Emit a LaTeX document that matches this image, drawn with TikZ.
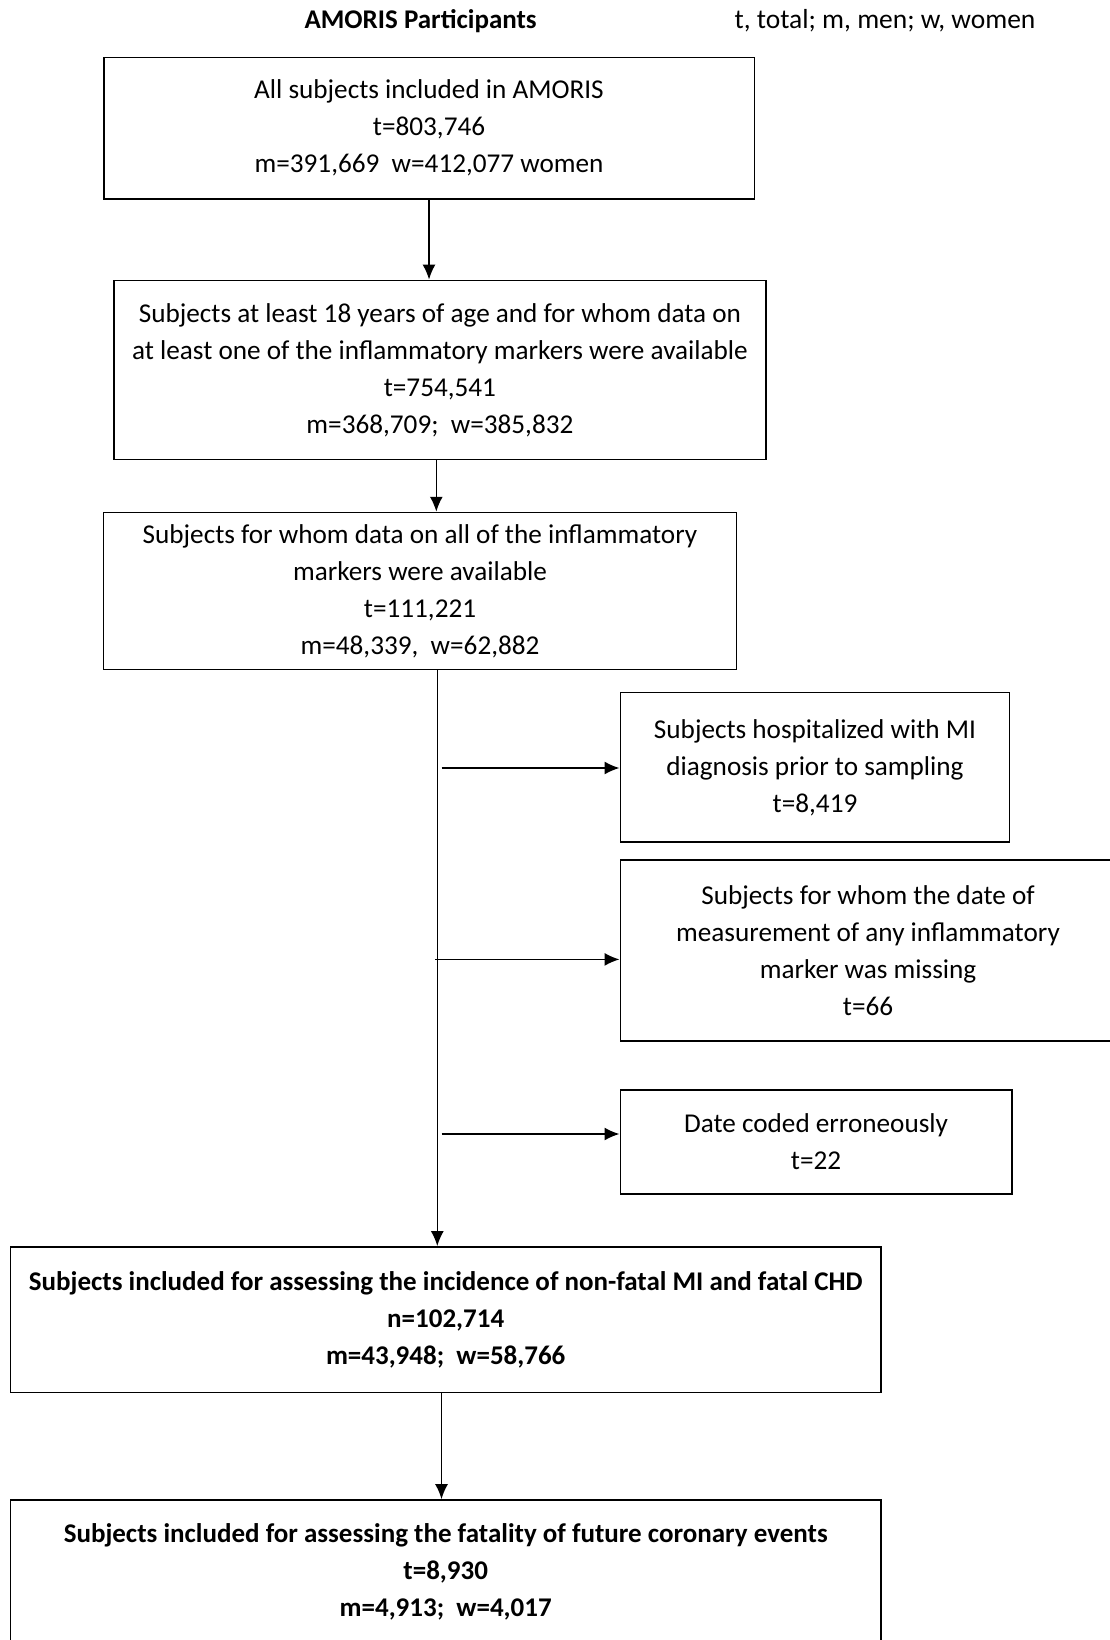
\documentclass[tikz,border=0pt]{standalone}
\usepackage{fontspec}
\setmainfont{Carlito}
\usetikzlibrary{arrows.meta}
\begin{document}
\begin{tikzpicture}[x=1pt,y=-1pt,
  box/.style={draw, line width=1.7pt, rectangle, align=center, inner sep=0pt,
    font=\fontsize{27.2}{37}\selectfont},
  bbox/.style={box, font=\fontsize{27}{37}\selectfont\bfseries},
  arr/.style={line width=1.6pt, -{Latex[length=15pt,width=13pt]}},
  ln/.style={line width=1.6pt}]
\useasboundingbox (0,0) rectangle (1110,1640);
\fill[white] (0,0) rectangle (1110,1640);

\node[font=\fontsize{27}{30}\selectfont\bfseries] (title) at (420.6,21) {AMORIS Participants};
\node[font=\fontsize{27.5}{30}\selectfont, anchor=west] (legend) at (731,21) {t, total; m, men; w, women};

\node[box, minimum width=650.7pt, minimum height=141.3pt] (b1) at (429,128.2)
  {All subjects included in AMORIS\\t=803,746\\m=391,669~ w=412,077 women};
\node[box, minimum width=651.8pt, minimum height=178.9pt] (b2) at (439.9,369.9)
  {Subjects at least 18 years of age and for whom data on\\at least one of the inflammatory markers were available\\t=754,541\\m=368,709;~ w=385,832};
\node[box, minimum width=632.9pt, minimum height=157pt] (b3) at (420,591.1)
  {Subjects for whom data on all of the inflammatory\\markers were available\\t=111,221\\m=48,339,~ w=62,882};
\node[box, minimum width=389.2pt, minimum height=149.6pt] (b4) at (815,767.4)
  {Subjects hospitalized with MI\\diagnosis prior to sampling\\t=8,419};
\node[box, minimum width=520pt, minimum height=181pt] (b5) at (880.4,950.5)
  {};
\node[font=\fontsize{27.2}{37}\selectfont, align=center] (b5t) at (868,950.5)
  {Subjects for whom the date of\\measurement of any inflammatory\\marker was missing\\t=66};
\node[box, minimum width=391.3pt, minimum height=103.7pt] (b6) at (816,1141.9)
  {Date coded erroneously\\t=22};
\node[bbox, minimum width=870.5pt, minimum height=145.5pt] (b7) at (445.7,1319.7)
  {Subjects included for assessing the incidence of non-fatal MI and fatal CHD\\n=102,714\\m=43,948;~ w=58,766};
\node[bbox, minimum width=870.5pt, minimum height=143pt] (b8) at (445.7,1571.5)
  {Subjects included for assessing the fatality of future coronary events\\t=8,930\\m=4,913;~ w=4,017};

\coordinate (m) at (437.3,0);
\coordinate (a2) at (436.3,0);
\coordinate (a4) at (441.5,0);
\coordinate (s1) at (441.5,768);
\coordinate (s2) at (435,959.4);
\coordinate (s3) at (441.5,1134);

\draw[arr] (b1.south) -- (b1.south |- b2.north);
\draw[arr] (b2.south -| a2) -- (b3.north -| a2);
\draw[arr] (b3.south -| m) -- (b7.north -| m);
\draw[arr] (s1) -- (s1 -| b4.west);
\draw[arr] (s2) -- (s2 -| b5.west);
\draw[arr] (s3) -- (s3 -| b6.west);
\draw[arr] (b7.south -| a4) -- (b8.north -| a4);
\end{tikzpicture}
\end{document}
